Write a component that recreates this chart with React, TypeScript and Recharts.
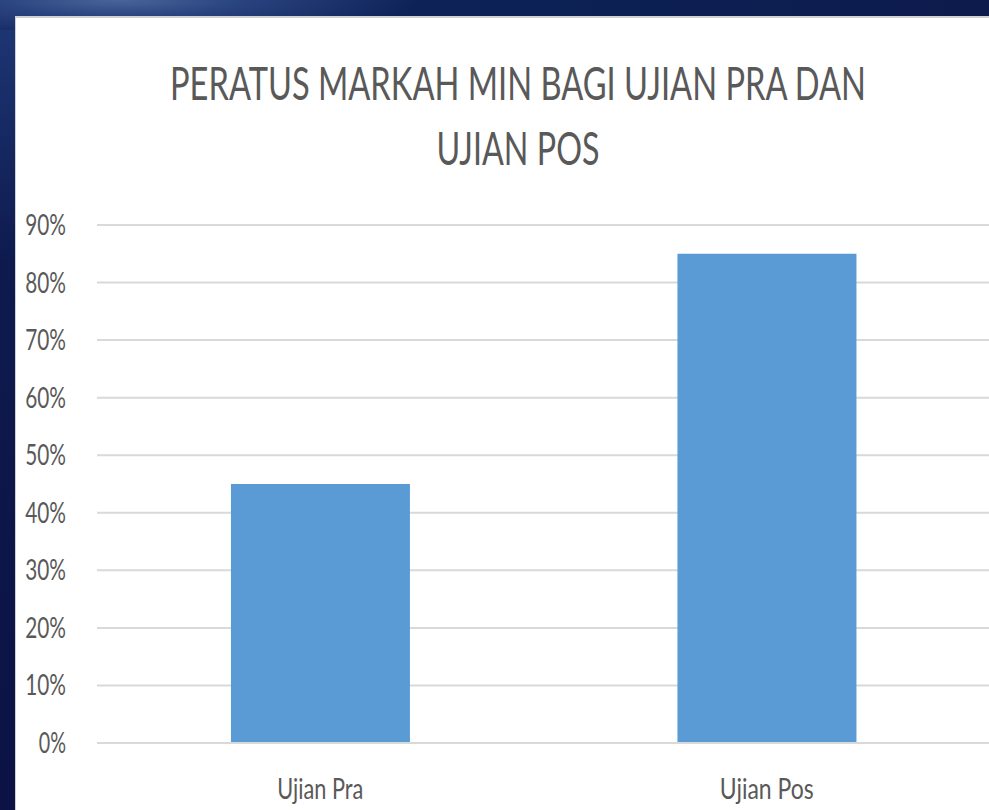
import React from 'react';
import { BarChart, Bar, XAxis, YAxis, CartesianGrid } from 'recharts';

const categories = ['Ujian Pra', 'Ujian Pos'];
const meanScores = [45, 85];
const yTicks = [0, 10, 20, 30, 40, 50, 60, 70, 80, 90];
const titleLines = ['PERATUS MARKAH MIN BAGI UJIAN PRA DAN', 'UJIAN POS'];

const data = categories.map((name, i) => ({ name, value: meanScores[i] }));

const FONT = 'Lato, "Open Sans", sans-serif';
const TEXT_GRAY = '#595959';

const YTick = ({ x, y, payload }: any) => {
    const label = `${payload.value}%`;
    return (
        <text
            x={x - 23}
            y={y + 10}
            textAnchor="end"
            fill={TEXT_GRAY}
            fontSize={29}
            fontFamily={FONT}
            textLength={label.length * 13.6}
            lengthAdjust="spacingAndGlyphs"
        >
            {label}
        </text>
    );
};

const XTick = ({ x, y, payload }: any) => {
    return (
        <text
            x={x}
            y={y + 48}
            textAnchor="middle"
            fill={TEXT_GRAY}
            fontSize={28}
            fontFamily={FONT}
            textLength={payload.value === 'Ujian Pra' ? 86 : 94}
            lengthAdjust="spacingAndGlyphs"
        >
            {payload.value}
        </text>
    );
};

export default function App() {
    return (
        <div
            style={{
                position: 'absolute',
                left: 0,
                top: 0,
                width: 989,
                height: 810,
                overflow: 'hidden',
                background:
                    'radial-gradient(ellipse 300px 40px at 12% 0%, #4a649a 0%, #2a4480 40%, transparent 100%), linear-gradient(90deg, #13265e 0%, #0c2256 50%, #0d1a4c 100%)',
            }}
        >
            <div
                style={{
                    position: 'absolute',
                    left: 0,
                    top: 30,
                    width: 15,
                    height: 780,
                    background: 'linear-gradient(180deg, #1d3572 0%, #0e1a4e 30%, #0c1244 100%)',
                }}
            />
            <div
                style={{
                    position: 'absolute',
                    left: 15,
                    top: 16,
                    width: 990,
                    height: 800,
                    background: '#ffffff',
                    borderTop: '2px solid #d0d0d0',
                    borderLeft: '1px solid #d0d0d0',
                }}
            />
            <svg
                width={989}
                height={200}
                style={{ position: 'absolute', left: 0, top: 0 }}
            >
                <text
                    x={518}
                    y={100}
                    textAnchor="middle"
                    fill={TEXT_GRAY}
                    fontSize={46}
                    fontFamily={FONT}
                    textLength={696}
                    lengthAdjust="spacingAndGlyphs"
                >
                    {titleLines[0]}
                </text>
                <text
                    x={518}
                    y={165}
                    textAnchor="middle"
                    fill={TEXT_GRAY}
                    fontSize={46}
                    fontFamily={FONT}
                    textLength={163}
                    lengthAdjust="spacingAndGlyphs"
                >
                    {titleLines[1]}
                </text>
            </svg>
            <div style={{ position: 'absolute', left: 0, top: 0 }}>
                <BarChart
                    width={990}
                    height={810}
                    data={data}
                    margin={{ top: 225, right: 0, left: 0, bottom: 27 }}
                    barCategoryGap="30%"
                >
                    <CartesianGrid
                        vertical={false}
                        stroke="#d9d9d9"
                        strokeWidth={2}
                    />
                    <XAxis
                        dataKey="name"
                        height={40}
                        axisLine={{ stroke: '#d9d9d9', strokeWidth: 2 }}
                        tickLine={false}
                        tick={<XTick />}
                        interval={0}
                    />
                    <YAxis
                        width={97}
                        domain={[0, 90]}
                        ticks={yTicks}
                        axisLine={false}
                        tickLine={false}
                        tick={<YTick />}
                        interval={0}
                    />
                    <Bar
                        dataKey="value"
                        fill="#5b9bd5"
                        isAnimationActive={false}
                    />
                </BarChart>
            </div>
        </div>
    );
}
